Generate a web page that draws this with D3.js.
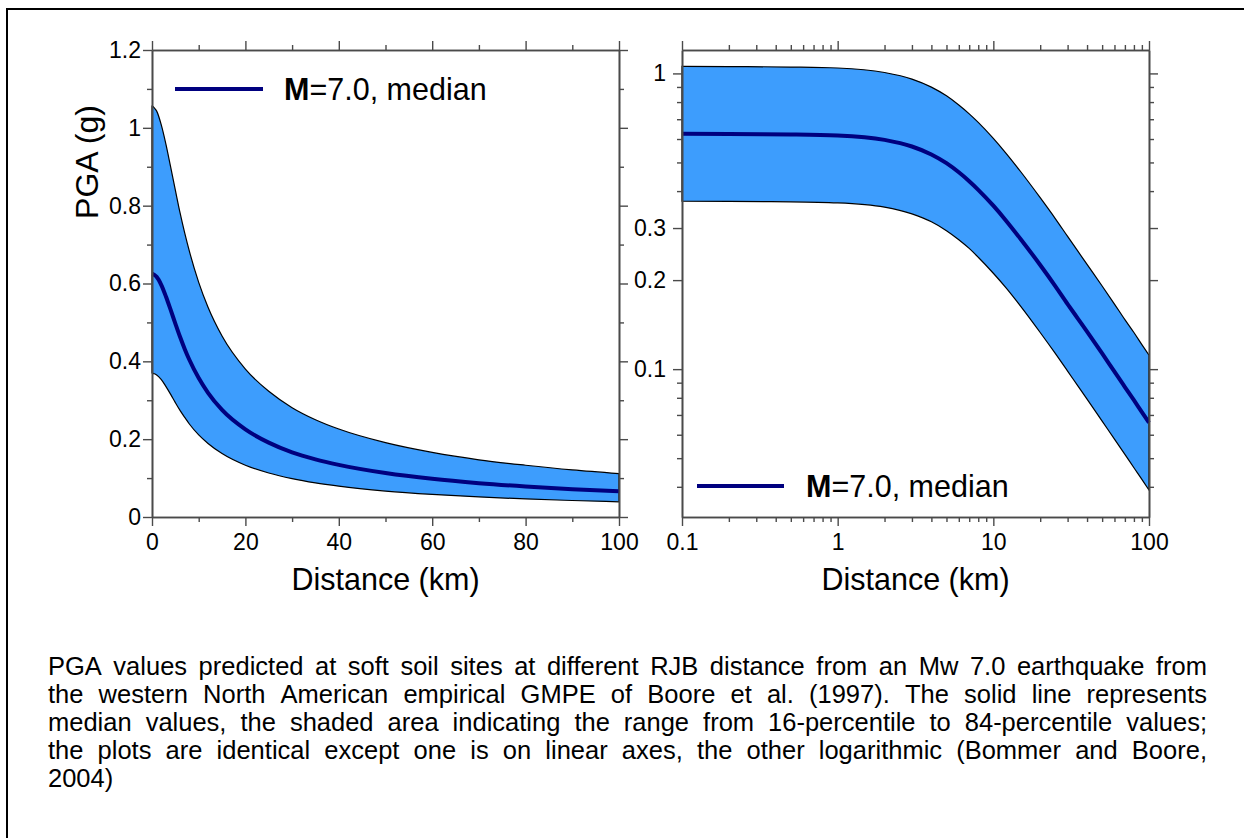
<!DOCTYPE html>
<html>
<head>
<meta charset="utf-8">
<script src="https://cdn.jsdelivr.net/npm/d3@7"></script>
<style>
  html, body { margin: 0; padding: 0; background: #ffffff; }
  svg { display: block; }
  text { font-family: "Liberation Sans", Arial, sans-serif; fill: #000; }
</style>
</head>
<body>
<svg id="chart" width="1244" height="838"></svg>
<script>
// ---------------- data ----------------
const distances = [0, 0.1, 0.2, 0.5, 1, 2, 3, 4, 5, 6, 7, 8, 10, 12, 15, 20, 25, 30, 35, 40, 50, 60, 70, 80, 90, 100];
const medianPGA = [0.625, 0.625, 0.624, 0.622, 0.617, 0.596, 0.566, 0.532, 0.497, 0.463, 0.432, 0.404, 0.357, 0.319, 0.275, 0.225, 0.191, 0.166, 0.148, 0.134, 0.113, 0.098, 0.087, 0.0785, 0.0716, 0.066];
const p84PGA    = [1.056, 1.056, 1.055, 1.051, 1.043, 1.007, 0.957, 0.899, 0.840, 0.782, 0.730, 0.683, 0.603, 0.539, 0.465, 0.380, 0.323, 0.281, 0.250, 0.226, 0.191, 0.166, 0.147, 0.133, 0.121, 0.1115];
const p16PGA    = [0.370, 0.370, 0.369, 0.368, 0.365, 0.353, 0.335, 0.315, 0.294, 0.274, 0.256, 0.239, 0.211, 0.189, 0.163, 0.133, 0.113, 0.0985, 0.0876, 0.0792, 0.0667, 0.058, 0.0515, 0.0464, 0.0424, 0.039];

const linXMajor = [0, 20, 40, 60, 80, 100];
const linXMinor = [10, 30, 50, 70, 90];
const linYMajor = [0, 0.2, 0.4, 0.6, 0.8, 1, 1.2];
const linYMinor = [0.1, 0.3, 0.5, 0.7, 0.9, 1.1];
const logXMajor = [0.1, 1, 10, 100];
const logXMinor = [0.2, 0.3, 0.4, 0.5, 0.6, 0.7, 0.8, 0.9, 2, 3, 4, 5, 6, 7, 8, 9, 20, 30, 40, 50, 60, 70, 80, 90];
const logYMajor = [1, 0.3, 0.2, 0.1];
const logYMinor = [0.9, 0.8, 0.7, 0.6, 0.5, 0.4, 0.09, 0.08, 0.07, 0.06, 0.05, 0.04];

const legendLabelBold = "M";
const legendLabelRest = "=7.0, median";
const xTitle = "Distance (km)";
const yTitle = "PGA (g)";
const captionLines = [
  "PGA values predicted at soft soil sites at different RJB distance from an Mw 7.0 earthquake from",
  "the western North American empirical GMPE of Boore et al. (1997). The solid line represents",
  "median values, the shaded area indicating the range from 16-percentile to 84-percentile values;",
  "the plots are identical except one is on linear axes, the other logarithmic (Bommer and Boore,",
  "2004)"
];

// ---------------- layout ----------------
const svg = d3.select("#chart");
const BAND = "#3d9dfd", MED = "#00007f", AX = "#4a4a4a";
const TICK_FS = "23px", TITLE_FS = "30.5px", LEG_FS = "30.5px", YT_FS = "32px", CAP_FS = 25.5;

// outer frame (left & top visible)
svg.append("rect").attr("x", 7).attr("y", 9).attr("width", 1260).attr("height", 860)
  .attr("fill", "none").attr("stroke", "#000").attr("stroke-width", 2);

const rows = distances.map((d, i) => ({ d, m: medianPGA[i], hi: p84PGA[i], lo: p16PGA[i] }));

function fmt(v) { return String(v); }

function drawPanel(opts) {
  const { x, y, xMaj, xMin, yMaj, yMin, data, yLabelGap } = opts;
  const g = svg.append("g");
  const [xa, xb] = x.range();
  const [yb, ya] = y.range();

  // band
  g.append("path").datum(data)
    .attr("d", d3.area().x(r => x(r.d)).y0(r => y(r.lo)).y1(r => y(r.hi)).curve(d3.curveMonotoneX))
    .attr("fill", BAND).attr("stroke", "#000").attr("stroke-width", 1.2);
  // median
  g.append("path").datum(data)
    .attr("d", d3.line().x(r => x(r.d)).y(r => y(r.m)).curve(d3.curveMonotoneX))
    .attr("fill", "none").attr("stroke", MED).attr("stroke-width", 4);

  function axis(gen, scale, vals, size, labels, tx, ty) {
    const a = gen(scale).tickValues(vals).tickSize(size).tickSizeOuter(0);
    if (!labels) a.tickFormat("");
    else a.tickFormat(fmt).tickPadding(labels);
    const s = g.append("g").attr("transform", `translate(${tx},${ty})`).call(a);
    s.select(".domain").attr("stroke", AX).attr("stroke-width", 1.6);
    s.selectAll(".tick line").attr("stroke", AX).attr("stroke-width", 1.4);
    s.selectAll("text").style("font-size", TICK_FS).style("font-family", '"Liberation Sans", Arial, sans-serif').attr("fill", "#000");
    return s;
  }
  // bottom
  axis(d3.axisBottom, x, xMin, 5, 0, 0, yb);
  axis(d3.axisBottom, x, xMaj, 9, 8, 0, yb);
  // top
  axis(d3.axisTop, x, xMin, 5, 0, 0, ya);
  axis(d3.axisTop, x, xMaj, 9, 0, 0, ya);
  // left
  axis(d3.axisLeft, y, yMin, 5, 0, xa, 0);
  axis(d3.axisLeft, y, yMaj, 9, yLabelGap, xa, 0);
  // right
  axis(d3.axisRight, y, yMin, 5, 0, xb, 0);
  axis(d3.axisRight, y, yMaj, 9, 0, xb, 0);

  // x title
  g.append("text").attr("x", (xa + xb) / 2).attr("y", 590).attr("text-anchor", "middle")
    .style("font-size", TITLE_FS).text(xTitle);
  return g;
}

function legend(lx0, lx1, ly, tx) {
  svg.append("line").attr("x1", lx0).attr("x2", lx1).attr("y1", ly).attr("y2", ly)
    .attr("stroke", MED).attr("stroke-width", 4);
  const t = svg.append("text").attr("x", tx).attr("y", ly + 11).style("font-size", LEG_FS);
  t.append("tspan").attr("font-weight", "bold").text(legendLabelBold);
  t.append("tspan").text(legendLabelRest);
}

// left (linear) panel
const xLin = d3.scaleLinear().domain([0, 100]).range([152, 619]);
const yLin = d3.scaleLinear().domain([0, 1.2]).range([517, 50]);
drawPanel({ x: xLin, y: yLin, xMaj: linXMajor, xMin: linXMinor, yMaj: linYMajor, yMin: linYMinor,
  data: rows, yLabelGap: 2 });
legend(175, 263, 89, 284);
svg.append("text").attr("transform", "translate(98,162) rotate(-90)").attr("text-anchor", "middle")
  .style("font-size", YT_FS).text(yTitle);

// right (log) panel
const xLog = d3.scaleLog().domain([0.1, 100]).range([682, 1149]);
const yLog = d3.scaleLog().domain([Math.pow(10, -1.5), 1.2]).range([517, 50]);
drawPanel({ x: xLog, y: yLog, xMaj: logXMajor, xMin: logXMinor, yMaj: logYMajor, yMin: logYMinor,
  data: rows.filter(r => r.d >= 0.1), yLabelGap: 7 });
legend(697, 784, 486, 806);

// caption (justified)
const capLeft = 48, capRight = 1207, capTop = 675, capStep = 28;
captionLines.forEach((line, li) => {
  const words = line.split(" ");
  const yy = capTop + li * capStep;
  const last = li === captionLines.length - 1;
  const nodes = words.map(w => svg.append("text").attr("y", yy).style("font-size", CAP_FS + "px").text(w));
  const widths = nodes.map(n => n.node().getComputedTextLength());
  const total = d3.sum(widths);
  const spaceW = CAP_FS * 0.278;
  const gap = (last || words.length < 2) ? spaceW : (capRight - capLeft - total) / (words.length - 1);
  let cx = capLeft;
  nodes.forEach((n, i) => { n.attr("x", cx); cx += widths[i] + gap; });
});
</script>
</body>
</html>
